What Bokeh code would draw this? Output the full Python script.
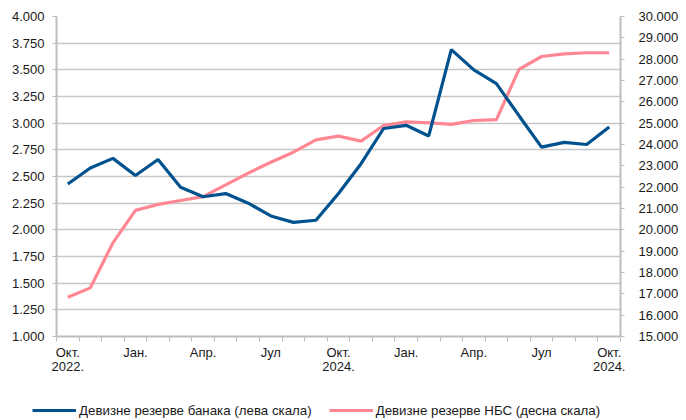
from bokeh.plotting import figure
from bokeh.layouts import column
from bokeh.models import (LinearAxis, Range1d, FixedTicker, Legend, LegendItem)
from bokeh.embed import file_html
from bokeh.resources import INLINE

# ---- data ----
month_labels = ["Окт.\n2022.", "", "", "Јан.", "", "", "Апр.", "", "", "Јул", "", "",
                "Окт.\n2024.", "", "", "Јан.", "", "", "Апр.", "", "", "Јул", "", "",
                "Окт.\n2024."]
banks_reserves = [2.43, 2.58, 2.67, 2.51, 2.66, 2.40, 2.31, 2.34, 2.25, 2.13, 2.07, 2.09,
                  2.34, 2.62, 2.95, 2.98, 2.88, 3.69, 3.50, 3.37, 3.07, 2.775, 2.82, 2.80, 2.965]
nbs_reserves = [16840, 17280, 19390, 20910, 21190, 21375, 21560, 22110, 22660, 23170, 23640, 24220,
                24390, 24160, 24890, 25060, 25020, 24940, 25125, 25170, 27520, 28125, 28250, 28300, 28300]
left_ticks = [1.0, 1.25, 1.5, 1.75, 2.0, 2.25, 2.5, 2.75, 3.0, 3.25, 3.5, 3.75, 4.0]
right_ticks = [15000, 16000, 17000, 18000, 19000, 20000, 21000, 22000, 23000, 24000, 25000,
               26000, 27000, 28000, 29000, 30000]
series_names = ["Девизне резерве банака (лева скала)", "Девизне резерве НБС (десна скала)"]

FONT = "Liberation Sans"
GRID = "#c6c6c6"
AXIS = "#bdbdbd"
TXT = "#1a1a1a"
BLUE = "#00528f"
PINK = "#ff8794"

n = len(month_labels)
xs = list(range(n))

p = figure(width=686, height=392, output_backend="svg", toolbar_location=None,
           x_range=Range1d(-0.5, n - 0.5), y_range=Range1d(1.0, 4.0),
           min_border_left=56, min_border_right=66, min_border_top=16, min_border_bottom=56)
p.extra_y_ranges = {"right": Range1d(15000, 30000)}
p.outline_line_color = None
p.background_fill_color = "white"
p.border_fill_color = "white"

# x axis
xax = p.xaxis[0]
label_idx = [i for i, s in enumerate(month_labels) if s]
xax.ticker = FixedTicker(ticks=label_idx, minor_ticks=[i - 0.5 for i in range(n + 1)])
xax.major_label_overrides = {i: month_labels[i] for i in label_idx}
xax.major_tick_line_color = None
xax.minor_tick_line_color = AXIS
xax.minor_tick_out = 5
xax.minor_tick_in = 0
xax.axis_line_color = AXIS
xax.axis_line_width = 2
xax.major_label_text_font = FONT
xax.major_label_text_font_size = "13px"
xax.major_label_text_color = TXT
xax.major_label_text_line_height = 0.95
xax.major_label_standoff = 2

# left axis
yax = p.yaxis[0]
yax.ticker = FixedTicker(ticks=left_ticks)
yax.major_label_overrides = {t: f"{t:.3f}" for t in left_ticks}
yax.minor_tick_line_color = None
yax.major_tick_line_color = AXIS
yax.major_tick_out = 4
yax.major_tick_in = 0
yax.axis_line_color = AXIS
yax.axis_line_width = 2
yax.major_label_text_font = FONT
yax.major_label_text_font_size = "13px"
yax.major_label_text_color = TXT
yax.major_label_standoff = 8

# right axis
rax = LinearAxis(y_range_name="right", ticker=FixedTicker(ticks=right_ticks))
rax.major_label_overrides = {t: f"{t // 1000}.000" for t in right_ticks}
rax.minor_tick_line_color = None
rax.major_tick_line_color = AXIS
rax.major_tick_out = 4
rax.major_tick_in = 0
rax.axis_line_color = AXIS
rax.axis_line_width = 2
rax.major_label_text_font = FONT
rax.major_label_text_font_size = "13px"
rax.major_label_text_color = TXT
rax.major_label_standoff = 14
p.add_layout(rax, "right")

p.xgrid.grid_line_color = None
p.ygrid.ticker = FixedTicker(ticks=left_ticks)
p.ygrid.grid_line_color = GRID
p.ygrid.grid_line_width = 1.5

r_pink = p.line(xs, nbs_reserves, y_range_name="right", line_color=PINK, line_width=3.2)
r_blue = p.line(xs, banks_reserves, line_color=BLUE, line_width=3.2)

# legend strip below the chart (its own frame covers the full width)
lf = figure(width=686, height=28, output_backend="svg", toolbar_location=None,
            x_axis_type=None, y_axis_type=None, x_range=Range1d(0, 1), y_range=Range1d(0, 1),
            min_border_left=0, min_border_right=0, min_border_top=0, min_border_bottom=0)
if "frame_align" in lf.properties():
    lf.frame_align = False
lf.outline_line_color = None
lf.grid.visible = False
# same series, outside this strip's visible range: only their legend swatches show
lb = lf.line(xs, banks_reserves, line_color=BLUE, line_width=3.2)
lp = lf.line(xs, nbs_reserves, line_color=PINK, line_width=3.2)
legend = Legend(items=[LegendItem(label=series_names[0], renderers=[lb]),
                       LegendItem(label=series_names[1], renderers=[lp])],
                orientation="horizontal", location=(32, 0),
                label_text_font=FONT, label_text_font_size="13.3px", label_text_color=TXT,
                glyph_width=44, glyph_height=14, label_height=20, label_standoff=3, spacing=17,
                padding=0, margin=0, border_line_color=None, background_fill_alpha=0)
lf.add_layout(legend, "center")

layout = column(p, lf, spacing=0)
open("out.html", "w").write(file_html(layout, INLINE))
